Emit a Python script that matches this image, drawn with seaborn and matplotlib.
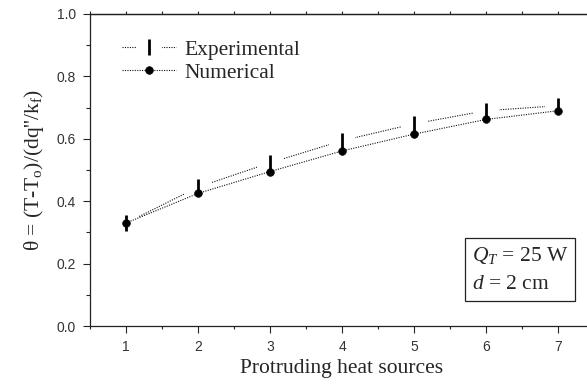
import matplotlib
matplotlib.use("Agg")
import matplotlib.pyplot as plt
from matplotlib.ticker import MultipleLocator, FormatStrFormatter
from matplotlib.legend_handler import HandlerTuple
import seaborn as sns
import pandas as pd

# Dimensionless temperature at each protruding heat source
sources = [1, 2, 3, 4, 5, 6, 7]
experimental = [0.330, 0.445, 0.523, 0.594, 0.648, 0.690, 0.706]
numerical = [0.330, 0.425, 0.495, 0.561, 0.615, 0.662, 0.690]

x_label = "Protruding heat sources"
y_label = r"θ = (T-T$_\mathrm{o}$)/(dq''/k$_\mathrm{f}$)"
box_text = "$Q_T$ = 25 W\n$d$ = 2 cm"

sns.set_style("ticks")
plt.rcParams["font.family"] = ["Liberation Serif", "DejaVu Serif"]
plt.rcParams["mathtext.fontset"] = "custom"
plt.rcParams["mathtext.rm"] = "Liberation Serif"
plt.rcParams["mathtext.it"] = "Liberation Serif:italic"
plt.rcParams["mathtext.bf"] = "Liberation Serif:bold"

df = pd.DataFrame({"src": sources, "exp": experimental, "num": numerical})

fig = plt.figure(figsize=(5.87, 3.87), dpi=100)
ax = fig.add_axes([90 / 587, 61 / 387, 504 / 587, 312 / 387])

dot_style = dict(color="#111111", linewidth=0.8, linestyle=(0, (1, 1.2)))

# experimental: dotted line, white gap around each marker, then a bar marker
sns.lineplot(data=df, x="src", y="exp", ax=ax, **dot_style, zorder=1)
exp_line = ax.lines[-1]
sns.lineplot(data=df, x="src", y="exp", ax=ax, linestyle="none", marker="s",
             markersize=19, markerfacecolor="white", markeredgecolor="white",
             markeredgewidth=0, zorder=2)
exp_gap = ax.lines[-1]

# numerical: dotted line through filled dots
sns.lineplot(data=df, x="src", y="num", ax=ax, **dot_style, marker="o",
             markersize=5.5, markerfacecolor="black", markeredgecolor="black",
             markeredgewidth=0.5, zorder=3)
num_line = ax.lines[-1]

sns.lineplot(data=df, x="src", y="exp", ax=ax, linestyle="none", marker="|",
             markersize=12, markeredgecolor="black", markeredgewidth=2.0,
             zorder=4)
exp_bar = ax.lines[-1]

ax.set_xlim(0.5, 7.5)
ax.set_ylim(0.0, 1.0)
ax.xaxis.set_major_locator(MultipleLocator(1))
ax.xaxis.set_minor_locator(MultipleLocator(0.5))
ax.yaxis.set_major_locator(MultipleLocator(0.2))
ax.yaxis.set_minor_locator(MultipleLocator(0.1))
ax.yaxis.set_major_formatter(FormatStrFormatter("%.1f"))

ax.tick_params(axis="x", which="major", direction="out", length=5, width=0.8,
               labelsize=10, pad=5)
ax.tick_params(axis="x", which="minor", direction="out", length=2, width=0.8)
ax.tick_params(axis="y", which="major", direction="out", length=5, width=0.8,
               labelsize=10, pad=5)
ax.tick_params(axis="y", which="minor", direction="out", length=3, width=0.8)
for lab in ax.get_xticklabels() + ax.get_yticklabels():
    lab.set_family("Liberation Sans")
    lab.set_color("#333333")

# short unlabeled ticks along the top edge
top = ax.secondary_xaxis("top")
top.xaxis.set_major_locator(MultipleLocator(0.5))
top.tick_params(axis="x", which="major", direction="out", length=2, width=0.8,
                labeltop=False)
top.spines["top"].set_linewidth(0.9)
top.spines["top"].set_color("#222222")

for sp in ax.spines.values():
    sp.set_visible(True)
    sp.set_linewidth(0.9)
    sp.set_color("#222222")

ax.set_xlabel(x_label, fontsize=15.5, labelpad=4)
ax.set_ylabel(y_label, fontsize=15.5, labelpad=8)

ax.legend(handles=[(exp_line, exp_gap, exp_bar), num_line],
          labels=["Experimental", "Numerical"],
          handler_map={tuple: HandlerTuple(ndivide=1)},
          loc="upper left", bbox_to_anchor=(0.064, 0.918), frameon=False,
          fontsize=15.5, handlelength=2.5, handletextpad=0.4,
          labelspacing=0.15, borderaxespad=0, borderpad=0)

ax.text(0.757, 0.103, box_text, transform=ax.transAxes, fontsize=15.5,
        ha="left", va="bottom", linespacing=1.65,
        bbox=dict(boxstyle="square,pad=0.32", facecolor="white",
                  edgecolor="#222222", linewidth=0.9))

fig.savefig("out.png", dpi=100)
